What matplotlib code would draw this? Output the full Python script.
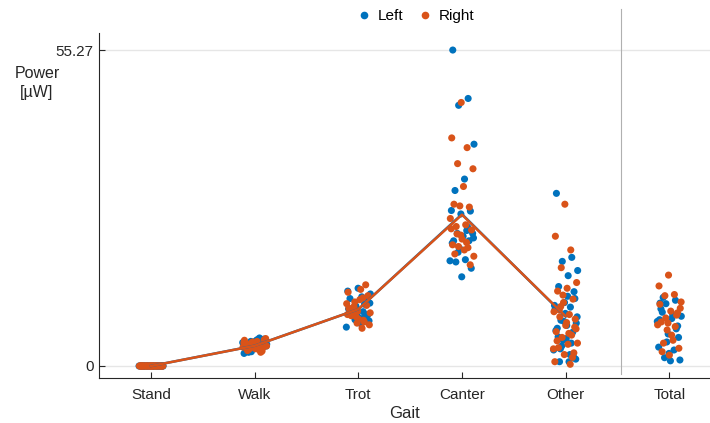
import numpy as np
import matplotlib
matplotlib.use("Agg")
import matplotlib.pyplot as plt
from matplotlib.lines import Line2D

plt.rcParams['font.family'] = ['Liberation Sans', 'DejaVu Sans']

categories = ["Stand", "Walk", "Trot", "Canter", "Other", "Total"]
yticks = [0, 55.27]

stand_left = [0.0] * 28
stand_right = [0.0] * 28
walk_left = [3.1, 4.2, 2.5, 3.8, 4.6, 2.9, 3.4, 4.0, 2.2, 4.9, 3.3, 3.7, 4.4, 2.7, 3.5,
             3.0, 4.1, 3.6, 2.4, 4.7, 3.2, 3.9, 2.8, 4.3, 3.5]
walk_right = [3.4, 4.5, 2.8, 3.6, 4.8, 3.0, 3.9, 2.6, 4.2, 3.3, 3.7, 2.9, 4.6, 3.1, 3.8,
              2.4, 4.0, 3.5, 4.3, 2.7, 3.2, 3.6, 4.1, 3.0, 3.4]
trot_left = [9.2, 10.8, 8.1, 12.6, 7.4, 9.9, 11.3, 8.7, 13.1, 9.5, 10.2, 7.9, 8.4, 11.8, 9.0,
             10.5, 6.8, 12.1, 9.7, 8.9, 13.6, 10.0, 8.3, 9.4, 11.0]
trot_right = [9.6, 12.9, 8.0, 10.4, 7.2, 11.6, 9.1, 14.2, 8.6, 10.9, 6.6, 9.8, 12.3, 8.2, 10.1,
              7.7, 11.2, 9.3, 13.4, 8.8, 10.6, 7.5, 9.0, 11.9, 9.5]
canter_left = [55.27, 46.8, 45.6, 38.8, 32.7, 30.7, 27.1, 26.6, 27.2, 23.7, 23.2, 23.2, 22.7,
               21.9, 21.9, 20.6, 18.4, 18.6, 18.2, 17.1, 15.6, 21.5, 24.3, 19.9, 22.4]
canter_right = [46.1, 39.9, 38.2, 35.4, 34.5, 31.4, 28.3, 27.8, 28.0, 25.8, 24.7, 24.4, 23.8,
                22.2, 21.2, 20.7, 20.9, 19.2, 20.3, 19.6, 17.7, 22.9, 24.0, 21.6, 23.1]
other_left = [30.2, 19.0, 18.3, 16.7, 15.8, 13.9, 13.0, 11.1, 9.9, 10.3, 8.0, 7.5, 7.1, 6.6,
              5.9, 4.5, 2.8, 0.75, 0.75, 11.8, 9.2, 6.2, 4.0, 3.5, 8.6, 12.2, 5.1, 1.6, 7.8,
              10.6, 2.0, 3.0, 1.2, 4.8]
other_right = [28.3, 22.7, 20.3, 17.2, 14.6, 13.6, 13.1, 11.7, 11.1, 9.5, 9.0, 8.6, 8.2, 7.1,
               6.0, 5.4, 5.0, 4.0, 3.8, 3.2, 2.3, 2.0, 0.75, 0.3, 10.4, 6.5, 7.6, 4.4, 1.5,
               12.4, 3.0, 5.7, 9.8, 6.8]
total_left = [11.0, 11.5, 10.9, 8.7, 8.3, 9.4, 7.0, 5.6, 3.3, 2.8, 1.45, 1.05, 0.9, 10.0, 6.5,
              4.2, 7.8, 9.0, 12.0, 5.0, 2.2, 8.1]
total_right = [15.9, 14.0, 12.5, 12.3, 10.1, 9.6, 7.7, 8.9, 6.3, 7.2, 4.5, 4.0, 3.1, 1.9, 10.8,
               6.9, 8.4, 11.2, 5.4, 2.5, 9.3, 7.5]

left_groups = [stand_left, walk_left, trot_left, canter_left, other_left, total_left]
right_groups = [stand_right, walk_right, trot_right, canter_right, other_right, total_right]

BLUE = "#0072BD"
ORANGE = "#D95319"

fig = plt.figure(figsize=(7.10, 4.23), dpi=100)
ax = fig.add_axes([99 / 710, (423 - 378) / 423, 1 - 99 / 710, (378 - 9) / 423])

def jitter(n, phase, width=0.12):
    k = np.arange(n)
    frac = (k * 0.6180339887 + phase) % 1.0
    return width * (2 * frac - 1)

for i in range(len(categories)):
    ly = np.array(left_groups[i])
    ry = np.array(right_groups[i])
    ax.scatter(i + jitter(len(ly), 0.13), ly, s=26, color=BLUE, edgecolors='none', zorder=3)
    ax.scatter(i + jitter(len(ry), 0.47), ry, s=26, color=ORANGE, edgecolors='none', zorder=3)

xs = np.arange(5)
ax.plot(xs, [np.mean(g) for g in left_groups[:5]], color=BLUE, lw=1.8, zorder=4)
ax.plot(xs, [np.mean(g) for g in right_groups[:5]], color=ORANGE, lw=1.8, zorder=5)

ylo, yhi = -2.1, 62.45
ax.set_ylim(ylo, yhi)
ax.set_xlim(-0.502, 5.393)

# divider between gait categories and total
ax.plot([4.53, 4.53], [-1.4, yhi], color="#b0b0b0", lw=0.8, zorder=1, clip_on=False)

for yv in yticks:
    ax.axhline(yv, color="#e6e6e6", lw=1.0, zorder=0)

for s in ['top', 'right']:
    ax.spines[s].set_visible(False)
for s in ['left', 'bottom']:
    ax.spines[s].set_color("#262626")
    ax.spines[s].set_linewidth(0.8)
ax.spines['left'].set_bounds(ylo, 58.25)

ax.set_yticks(yticks)
ax.set_yticklabels(["0", "55.27"])
ax.set_xticks(range(len(categories)))
ax.set_xticklabels(categories)
ax.tick_params(axis='both', direction='in', length=4, width=0.8, color="#262626",
               labelsize=11, labelcolor="#262626")
ax.tick_params(axis='x', pad=7)
ax.tick_params(axis='y', pad=4)
ax.set_xlabel("Gait", fontsize=12, color="#262626", labelpad=3)

fig.text(37 / 710, 1 - 83 / 423, "Power\n[µW]", ha='center', va='center',
         multialignment='center', fontsize=11.5, color="#262626", linespacing=1.3)

handles = [Line2D([], [], ls='none', marker='o', ms=5.5, color=BLUE, mec='none'),
           Line2D([], [], ls='none', marker='o', ms=5.5, color=ORANGE, mec='none')]
fig.legend(handles, ["Left", "Right"], loc='center', bbox_to_anchor=(416 / 710, 1 - 16 / 423),
           ncol=2, frameon=False, fontsize=11, handlelength=0.8, handletextpad=0.5,
           columnspacing=1.0, borderaxespad=0)

fig.savefig("out.png", dpi=100)
